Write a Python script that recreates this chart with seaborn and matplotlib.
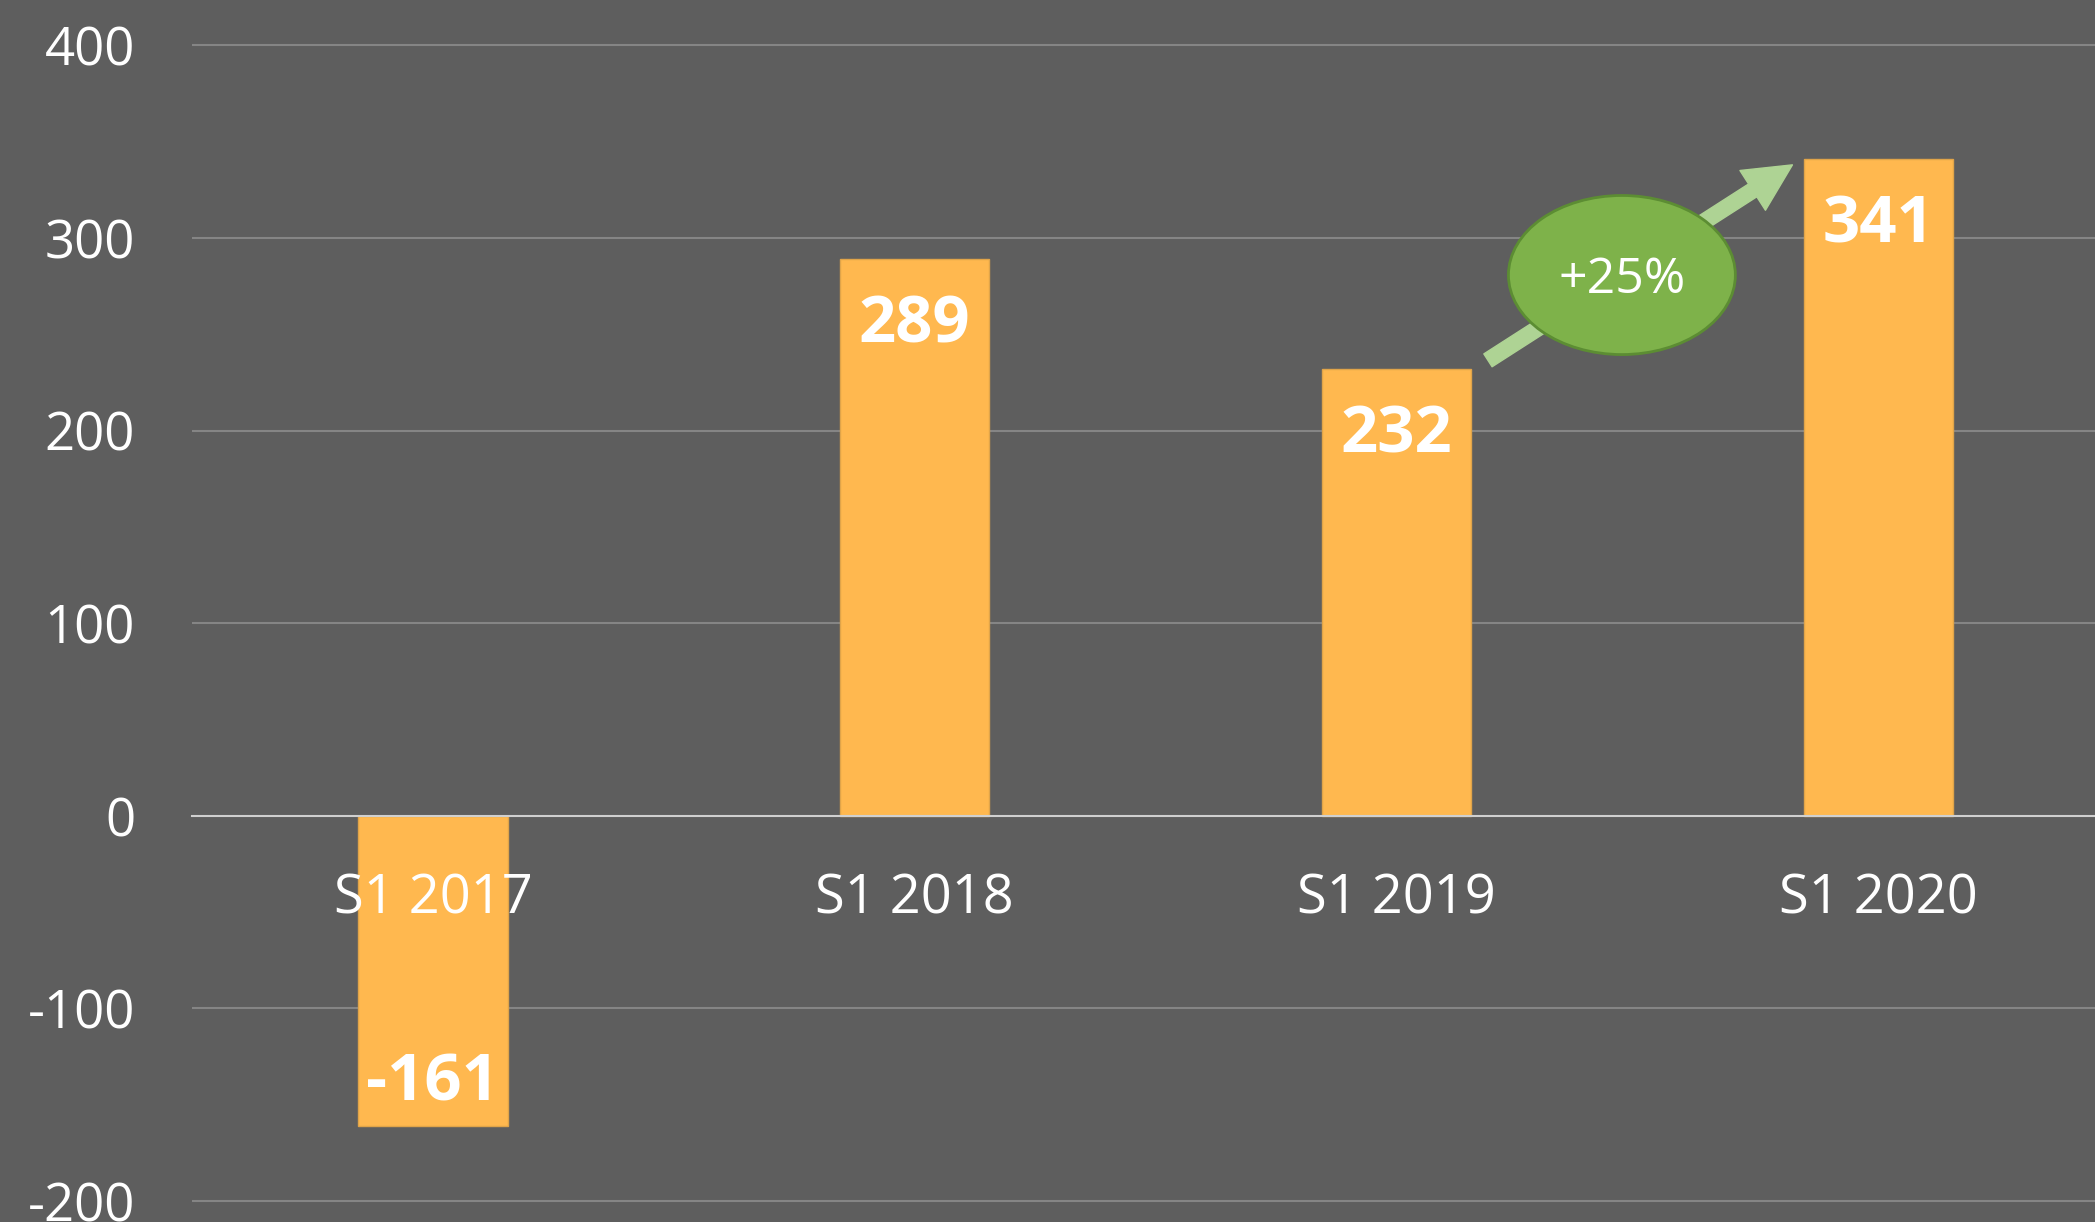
import numpy as np
import pandas as pd
import seaborn as sns
import matplotlib.pyplot as plt
from matplotlib.patches import Ellipse

# === Dati ===
periodi = ["S1 2017", "S1 2018", "S1 2019", "S1 2020"]
valori = [-161, 289, 232, 341]
etichetta_crescita = "+25%"
yticks = [-200, -100, 0, 100, 200, 300, 400]

df = pd.DataFrame({"periodo": periodi, "valore": valori})

# === Stile ===
sfondo = "#5e5e5e"
arancio = "#ffb84f"
sns.set_theme(style="dark")
plt.rcParams["font.family"] = ["Open Sans", "DejaVu Sans"]
plt.rcParams["axes.unicode_minus"] = False

fig = plt.figure(figsize=(20.95, 12.22), dpi=100, facecolor=sfondo)
ax = fig.add_axes([192 / 2095, 0, 1 - 192 / 2095, 1])
ax.set_facecolor(sfondo)

sns.barplot(data=df, x="periodo", y="valore", color=arancio, saturation=1,
            width=0.31, edgecolor="#e0a449", linewidth=1, ax=ax, zorder=2)

ax.set_xlim(-0.5, 3.45)
ax.set_ylim(-210.9, 423.6)
ax.set_yticks(yticks)
ax.set_yticklabels([str(t) for t in yticks])
ax.set_xlabel("")
ax.set_ylabel("")

# griglia orizzontale
ax.grid(False)
for t in yticks:
    if t == 0:
        continue
    ax.axhline(t, color="#858585", lw=1.5, zorder=0)

for s in ["top", "right", "left"]:
    ax.spines[s].set_visible(False)
ax.spines["bottom"].set_position(("data", 0))
ax.spines["bottom"].set_color("#d0d0d0")
ax.spines["bottom"].set_linewidth(1.5)
ax.spines["bottom"].set_zorder(3)

ax.set_axisbelow(False)
ax.xaxis.set_zorder(4)
ax.tick_params(axis="y", length=0, pad=41, labelsize=38, labelcolor="white")
ax.tick_params(axis="x", length=0, pad=40, labelsize=39, labelcolor="white")

# etichette delle barre
for i, v in enumerate(valori):
    off = -48 if v > 0 else 30
    ax.annotate(str(v), xy=(i, v), xytext=(0, off), textcoords="offset points",
                ha="center", va="center", fontsize=47, fontweight="bold",
                color="white", zorder=5)

# freccia e ovale di crescita
ax.annotate("", xy=(2.822, valori[3] - 3), xytext=(2.19, valori[2] + 4.5),
            arrowprops=dict(arrowstyle="simple,head_width=1.7,head_length=1.7,tail_width=0.55",
                            color="#aed394", mutation_scale=20, shrinkA=0, shrinkB=0),
            zorder=4)
cx, cy = 2.468, (valori[2] + valori[3]) / 2 - 5.7
ax.add_patch(Ellipse((cx, cy), 0.471, 82.6, facecolor="#7eb24a",
                     edgecolor="#5c8d33", lw=2, zorder=5))
ax.text(cx, cy - 2.6, etichetta_crescita, ha="center", va="center", fontsize=36,
        color="white", zorder=6)

fig.savefig("out.png", dpi=100, facecolor=sfondo)
